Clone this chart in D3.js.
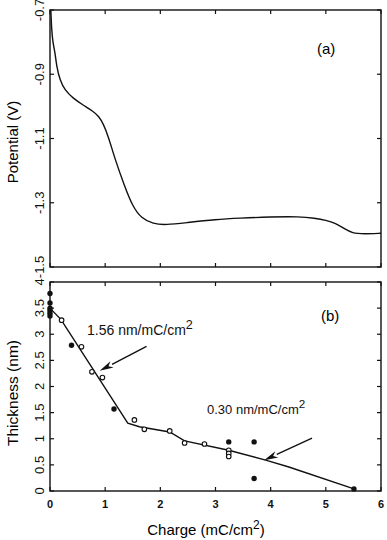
<!DOCTYPE html>
<html>
<head>
<meta charset="utf-8">
<script src="https://cdn.jsdelivr.net/npm/d3@7"></script>
<style>
  body { margin: 0; background: #fff; }
  svg { font-family: "Liberation Sans", Arial, sans-serif; }
</style>
</head>
<body>
<svg class="fig" width="387" height="540"></svg>
<script>
// panel (a): potential transient
var chargeA = [0.015, 0.02, 0.03, 0.05, 0.09, 0.12, 0.18, 0.27, 0.42, 0.6, 0.78, 0.88, 0.97, 1.06, 1.17, 1.355, 1.5, 1.656, 1.87, 2.1, 2.47, 3.01, 3.43, 4.0, 4.52, 4.8, 5.0, 5.18, 5.33, 5.48, 5.69, 6.0];
var potentialA = [-0.70, -0.72, -0.76, -0.80, -0.83, -0.876, -0.918, -0.95, -0.975, -0.996, -1.015, -1.03, -1.055, -1.095, -1.16, -1.25, -1.312, -1.348, -1.366, -1.369, -1.362, -1.352, -1.348, -1.344, -1.343, -1.348, -1.354, -1.364, -1.38, -1.395, -1.397, -1.395];

// panel (b): thickness vs charge
var filledX = [0, 0, 0, 0, 0, 0, 0.39, 1.16, 3.24, 3.70, 3.70, 5.51];
var filledY = [3.78, 3.60, 3.50, 3.45, 3.40, 3.35, 2.79, 1.57, 0.94, 0.94, 0.24, 0.04];
var openX = [0.21, 0.57, 0.76, 0.95, 1.53, 1.71, 2.17, 2.44, 2.80, 3.24, 3.24, 3.24];
var openY = [3.27, 2.76, 2.28, 2.17, 1.36, 1.18, 1.15, 0.92, 0.90, 0.78, 0.72, 0.66];
var fitX = [0, 0.2, 1.41, 1.62, 2.17, 2.44, 3.24, 3.91, 4.33, 5.51];
var fitY = [3.5, 3.28, 1.3, 1.23, 1.13, 0.96, 0.78, 0.59, 0.46, 0.04];

var xTicks = [0, 1, 2, 3, 4, 5, 6];
var yTicksA = [-0.7, -0.9, -1.1, -1.3, -1.5];
var yTicksB = [0, 0.5, 1, 1.5, 2, 2.5, 3, 3.5, 4];

// annotations: [tailX, tailY, headX, headY] in data units
var arrow1 = [1.75, 2.77, 0.90, 2.30];
var arrow2 = [4.75, 1.01, 3.88, 0.59];

var svg = d3.select('.fig');
var L = 50, R = 381;

var x = d3.scaleLinear().domain([0, 6]).range([L, R]);
var ya = d3.scaleLinear().domain([-1.5, -0.7]).range([267, 10]);
var yb = d3.scaleLinear().domain([0, 4]).range([491, 282]);

function frame(y0, y1) {
  svg.append('rect').attr('x', L).attr('y', y0).attr('width', R - L).attr('height', y1 - y0)
    .attr('fill', 'none').attr('stroke', '#111').attr('stroke-width', 1.4);
}

function ticks(y, yt, y0, y1) {
  var g = svg.append('g').attr('stroke', '#111').attr('stroke-width', 1.2);
  xTicks.forEach(function(t) {
    g.append('line').attr('x1', x(t)).attr('x2', x(t)).attr('y1', y0).attr('y2', y0 + 4);
    g.append('line').attr('x1', x(t)).attr('x2', x(t)).attr('y1', y1).attr('y2', y1 - 4);
  });
  yt.forEach(function(t) {
    g.append('line').attr('x1', L).attr('x2', L + 4).attr('y1', y(t)).attr('y2', y(t));
    g.append('line').attr('x1', R).attr('x2', R - 4).attr('y1', y(t)).attr('y2', y(t));
  });
}

function yLabels(y, yt, fmt) {
  yt.forEach(function(t) {
    svg.append('text').attr('transform', 'translate(44,' + y(t) + ') rotate(-90)')
      .attr('text-anchor', 'middle').attr('font-size', 13).attr('fill', '#111')
      .text(fmt(t));
  });
}

// ---- panel (a)
frame(10, 267);
ticks(ya, yTicksA, 10, 267);
yLabels(ya, yTicksA, function(d) { return d.toFixed(1); });

var lineA = d3.line().curve(d3.curveBasis)
  .x(function(d) { return x(d[0]); }).y(function(d) { return ya(d[1]); });
svg.append('path').datum(d3.zip(chargeA, potentialA))
  .attr('d', lineA).attr('fill', 'none').attr('stroke', '#111').attr('stroke-width', 1.4);

svg.append('text').attr('x', 317).attr('y', 54).attr('font-size', 15).text('(a)');
svg.append('text').attr('transform', 'translate(18,142) rotate(-90)')
  .attr('text-anchor', 'middle').attr('font-size', 15).text('Potential (V)');

// ---- panel (b)
frame(282, 491);
ticks(yb, yTicksB, 282, 491);
yLabels(yb, yTicksB, function(d) { return String(d); });

xTicks.forEach(function(t) {
  svg.append('text').attr('x', x(t)).attr('y', 508).attr('text-anchor', 'middle')
    .attr('font-size', 11).attr('font-weight', 'bold').attr('fill', '#111').text(t);
});

var lineB = d3.line().x(function(d) { return x(d[0]); }).y(function(d) { return yb(d[1]); });
svg.append('path').datum(d3.zip(fitX, fitY))
  .attr('d', lineB).attr('fill', 'none').attr('stroke', '#111').attr('stroke-width', 1.4);

svg.append('g').selectAll('circle').data(d3.zip(openX, openY)).enter().append('circle')
  .attr('cx', function(d) { return x(d[0]); }).attr('cy', function(d) { return yb(d[1]); })
  .attr('r', 2.3).attr('fill', '#fff').attr('stroke', '#111').attr('stroke-width', 1.1);
svg.append('g').selectAll('circle').data(d3.zip(filledX, filledY)).enter().append('circle')
  .attr('cx', function(d) { return x(d[0]); }).attr('cy', function(d) { return yb(d[1]); })
  .attr('r', 2.7).attr('fill', '#111');

function arrow(a) {
  var x0 = x(a[0]), y0 = yb(a[1]), x1 = x(a[2]), y1 = yb(a[3]);
  var dx = x1 - x0, dy = y1 - y0, len = Math.sqrt(dx * dx + dy * dy);
  var ux = dx / len, uy = dy / len, hl = 14, hw = 3.5;
  var bx = x1 - ux * hl, by = y1 - uy * hl;
  svg.append('line').attr('x1', x0).attr('y1', y0).attr('x2', bx).attr('y2', by)
    .attr('stroke', '#111').attr('stroke-width', 1.4);
  svg.append('path').attr('d', 'M' + x1 + ',' + y1 + 'L' + (bx - uy * hw) + ',' + (by + ux * hw) +
    'L' + (bx + ux * 4) + ',' + (by + uy * 4) + 'L' + (bx + uy * hw) + ',' + (by - ux * hw) + 'Z')
    .attr('fill', '#111');
}
arrow(arrow1);
arrow(arrow2);

function slopeLabel(tx, ty, fs, val) {
  var t = svg.append('text').attr('x', tx).attr('y', ty).attr('font-size', fs).attr('fill', '#111');
  t.append('tspan').text(val + ' nm/mC/cm');
  t.append('tspan').attr('dy', -6).attr('font-size', fs * 0.9).text('2');
}
slopeLabel(87, 335, 14, '1.56');
slopeLabel(207, 414, 13, '0.30');

svg.append('text').attr('x', 321).attr('y', 321).attr('font-size', 15).text('(b)');
svg.append('text').attr('transform', 'translate(18,393) rotate(-90)')
  .attr('text-anchor', 'middle').attr('font-size', 15.5).text('Thickness (nm)');

var xl = svg.append('text').attr('x', 206).attr('y', 535).attr('text-anchor', 'middle').attr('font-size', 15);
xl.append('tspan').text('Charge (mC/cm');
xl.append('tspan').attr('dy', -6).attr('font-size', 12).text('2');
xl.append('tspan').attr('dy', 6).text(')');
</script>
</body>
</html>
